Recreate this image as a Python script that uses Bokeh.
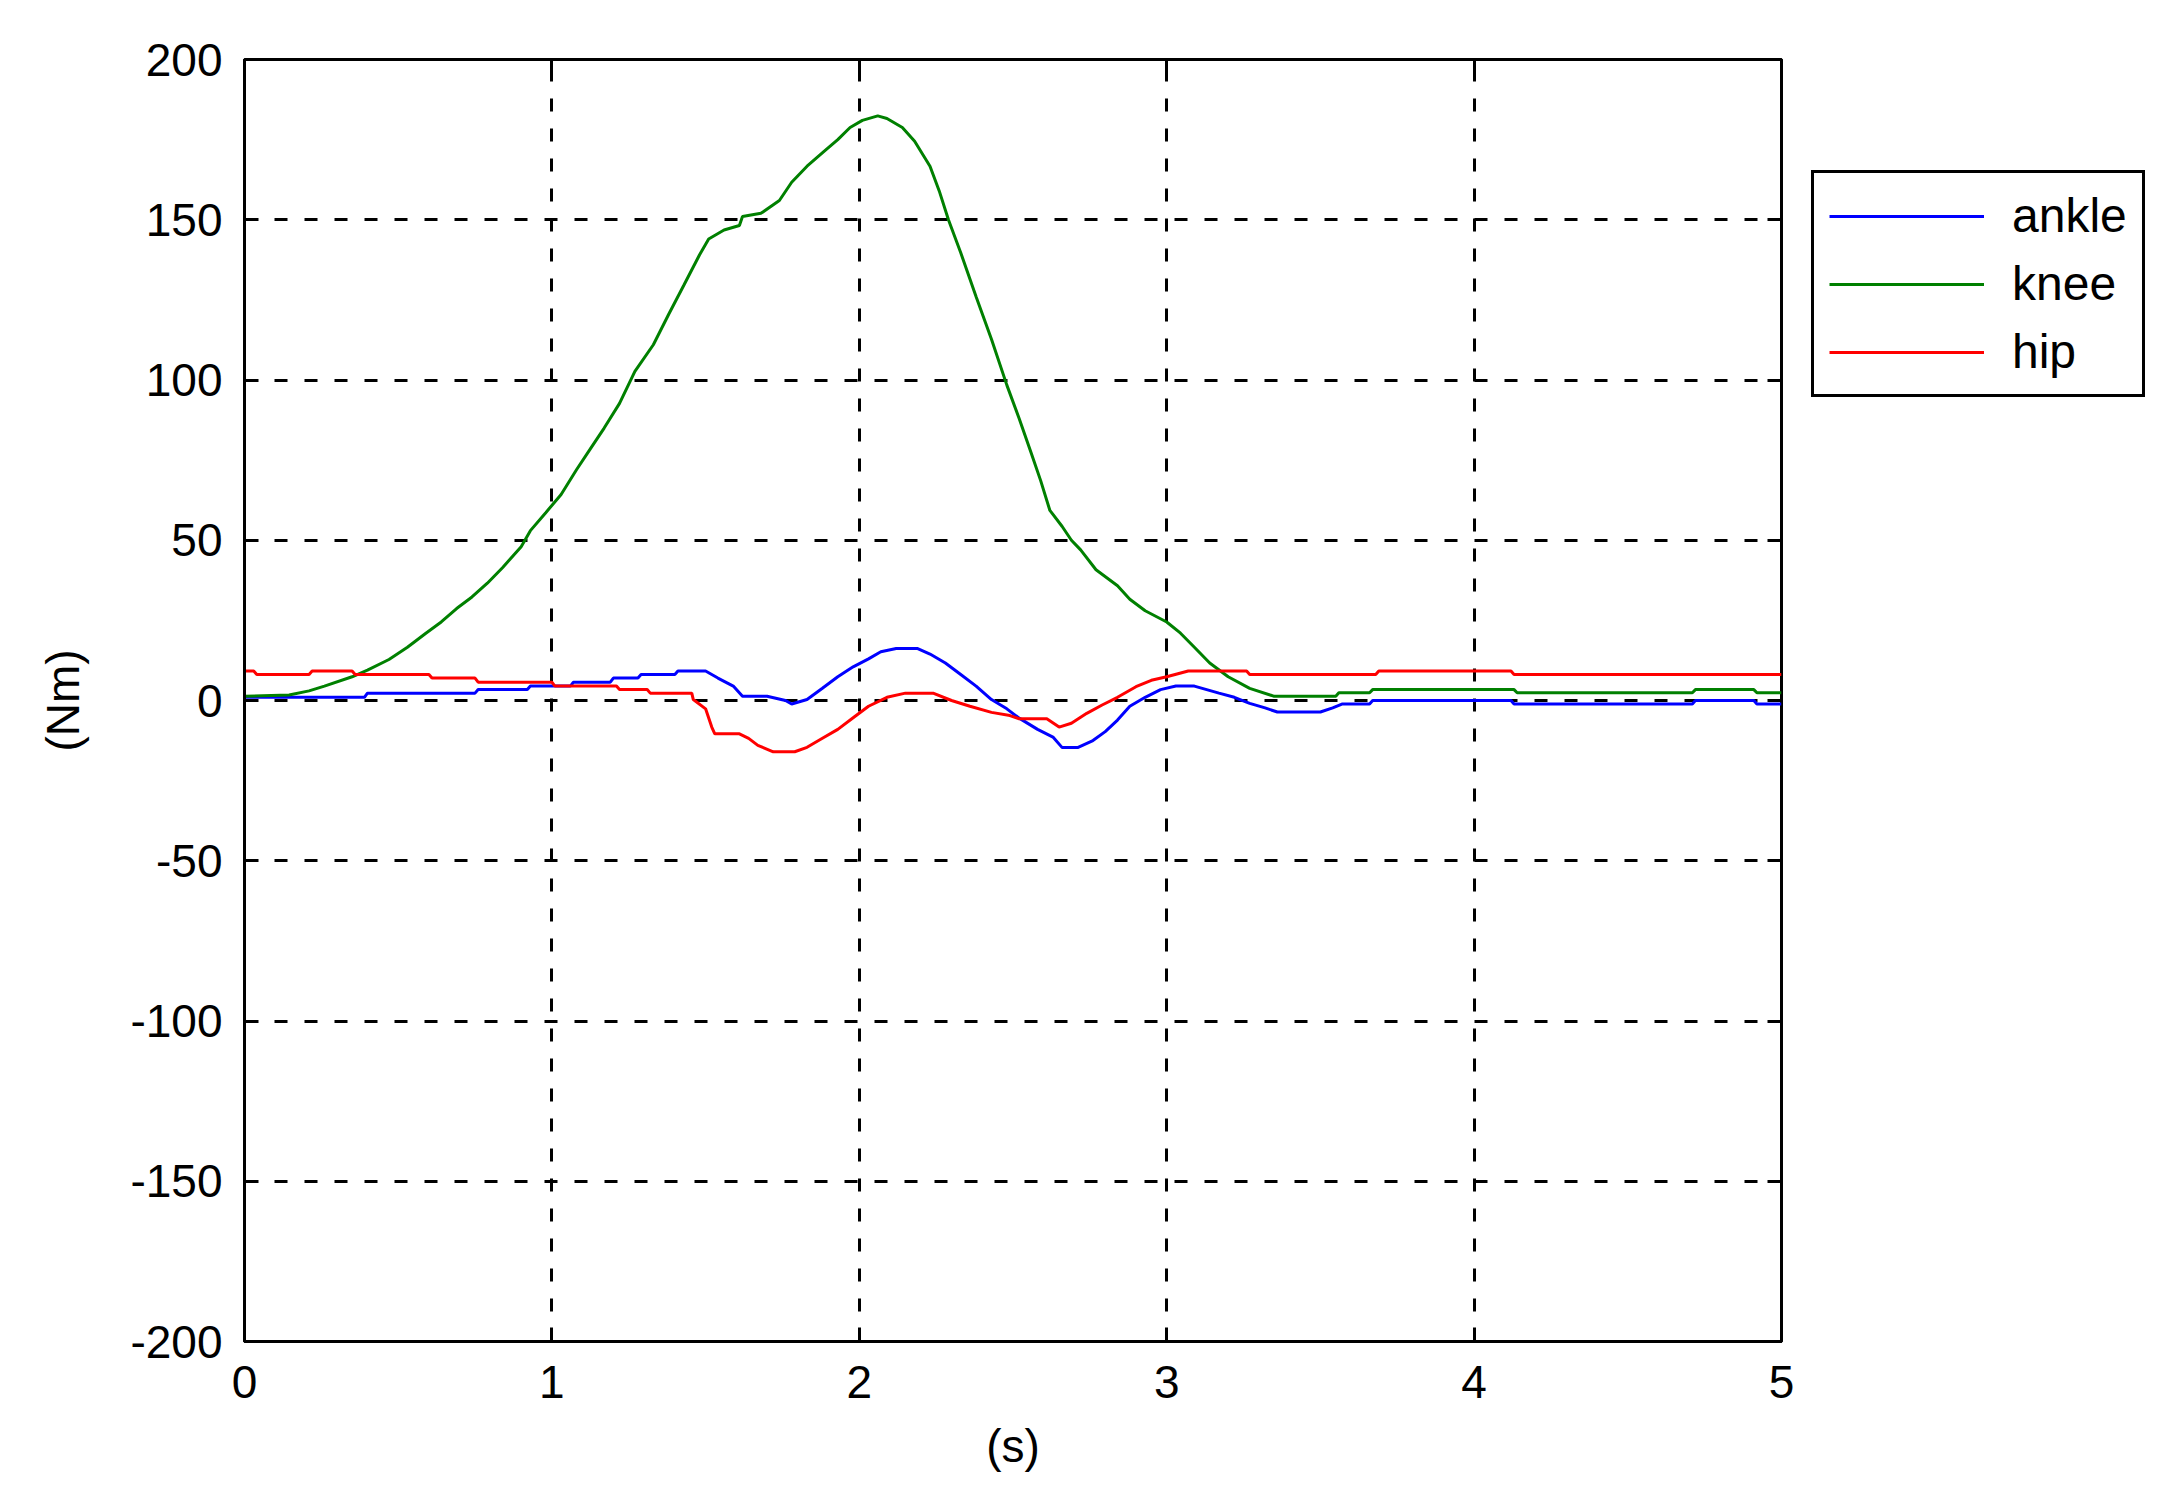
from bokeh.plotting import figure
from bokeh.layouts import row
from bokeh.models import LinearAxis, FixedTicker, Legend, LegendItem, Range1d, CustomJSTickFormatter
from bokeh.embed import file_html
from bokeh.resources import INLINE

# ankle torque (blue)
ankle_t = [0, 0.39, 0.40, 0.75, 0.76, 0.92, 0.93, 1.06, 1.07, 1.19, 1.20, 1.28, 1.29, 1.40,
           1.41, 1.50, 1.54, 1.59, 1.62, 1.70, 1.76, 1.78, 1.83, 1.88, 1.93, 1.98, 2.03, 2.07,
           2.12, 2.19, 2.23, 2.28, 2.33, 2.38, 2.43, 2.48, 2.52, 2.58, 2.63, 2.66, 2.71, 2.76,
           2.80, 2.84, 2.88, 2.93, 2.98, 3.03, 3.09, 3.13, 3.17, 3.22, 3.27, 3.32, 3.36, 3.50,
           3.54, 3.57, 3.66, 3.67, 4.12, 4.13, 4.71, 4.72, 4.91, 4.92, 5.0]
ankle = [1, 1, 2.3, 2.3, 3.4, 3.4, 4.5, 4.5, 5.7, 5.7, 7, 7, 8.1, 8.1,
         9.2, 9.2, 7, 4.5, 1.3, 1.3, 0, -1.1, 0.3, 3.8, 7.4, 10.5, 13, 15.2,
         16.2, 16.2, 14.5, 11.7, 8.1, 4.5, 0.3, -2.6, -5.5, -9, -11.4, -14.7, -14.7, -12.5,
         -9.7, -6.1, -1.8, 1, 3.4, 4.5, 4.5, 3.4, 2.3, 1, -0.9, -2.3, -3.6, -3.6,
         -2.3, -1.1, -1.1, 0, 0, -1.1, -1.1, 0, 0, -1.1, -1.1]

# knee torque (green)
knee_t = [0, 0.145, 0.21, 0.26, 0.35, 0.40, 0.47, 0.53, 0.59, 0.64, 0.69, 0.74, 0.79, 0.84,
          0.90, 0.93, 0.98, 1.03, 1.08, 1.125, 1.17, 1.22, 1.27, 1.33, 1.38, 1.43, 1.48, 1.51,
          1.56, 1.61, 1.62, 1.68, 1.74, 1.78, 1.83, 1.89, 1.93, 1.97, 2.01, 2.06, 2.09, 2.14,
          2.18, 2.23, 2.26, 2.29, 2.33, 2.38, 2.43, 2.48, 2.52, 2.56, 2.59, 2.62, 2.66, 2.69,
          2.72, 2.77, 2.84, 2.88, 2.93, 3.0, 3.045, 3.09, 3.14, 3.2, 3.27, 3.35, 3.55, 3.56,
          3.66, 3.67, 4.13, 4.14, 4.71, 4.72, 4.91, 4.92, 5.0]
knee = [1.3, 1.7, 3, 4.5, 7.4, 9.5, 12.8, 16.6, 21, 24.5, 28.7, 32.3, 36.6, 41.5,
        48, 53, 58.6, 64.3, 72, 78.5, 85, 92.7, 102.7, 111, 120.5, 129.7, 139, 144,
        146.8, 148.2, 151, 152, 156, 161.7, 166.7, 171.7, 175, 178.8, 181, 182.4, 181.6, 178.8,
        174.5, 166.7, 159, 150, 139.7, 126, 112.7, 98.4, 88, 77, 68.6, 59.3, 54.3, 50,
        47, 40.8, 35.8, 31.6, 28, 24.5, 21, 16.6, 11.7, 7.4, 3.8, 1.3, 1.3, 2.4,
        2.4, 3.4, 3.4, 2.4, 2.4, 3.4, 3.4, 2.4, 2.4]

# hip torque (red)
hip_t = [0, 0.03, 0.04, 0.21, 0.22, 0.35, 0.36, 0.60, 0.61, 0.75, 0.76, 1.00, 1.01, 1.21,
         1.22, 1.31, 1.32, 1.455, 1.46, 1.50, 1.52, 1.53, 1.61, 1.64, 1.67, 1.72, 1.79, 1.83,
         1.88, 1.93, 1.98, 2.03, 2.09, 2.15, 2.24, 2.30, 2.36, 2.43, 2.49, 2.52, 2.61, 2.65,
         2.69, 2.74, 2.79, 2.84, 2.90, 2.95, 3.00, 3.07, 3.26, 3.27, 3.68, 3.69, 4.12, 4.13, 5.0]
hip = [9.2, 9.2, 8.1, 8.1, 9.2, 9.2, 8.1, 8.1, 7, 7, 5.7, 5.7, 4.5, 4.5,
       3.4, 3.4, 2.3, 2.3, 0.3, -2.6, -8.3, -10.4, -10.4, -11.8, -14, -16, -16, -14.6,
       -11.8, -9, -5.4, -1.8, 1, 2.3, 2.3, 0, -1.8, -3.7, -4.7, -5.7, -5.7, -8.3,
       -7.1, -4, -1.4, 1, 4.3, 6.3, 7.4, 9.2, 9.2, 8.1, 8.1, 9.2, 9.2, 8.1, 8.1]

names = ["ankle", "knee", "hip"]
colors = ["#0000ff", "#008000", "#ff0000"]
x_ticks = [0, 1, 2, 3, 4, 5]
y_ticks = [-200, -150, -100, -50, 0, 50, 100, 150, 200]

FONT = "Liberation Sans"
FS = "46px"
H = 1485

p = figure(width=1800, height=H, output_backend="svg", toolbar_location=None,
           x_range=Range1d(0, 5), y_range=Range1d(-200, 200),
           x_axis_label="(s)", y_axis_label="(Nm)")
p.min_border_left = 244
p.min_border_right = 19
p.min_border_top = 59
p.min_border_bottom = 144
p.outline_line_color = "black"
p.outline_line_width = 3

series = [(ankle_t, ankle), (knee_t, knee), (hip_t, hip)]
for (t, v), c in zip(series, colors):
    p.line(t, v, color=c, line_width=3)

p.xaxis.ticker = FixedTicker(ticks=x_ticks)
p.yaxis.ticker = FixedTicker(ticks=y_ticks)
# plain hyphen minus like the original
p.yaxis.major_label_overrides = {t: str(t) for t in y_ticks}

for g in (p.xgrid[0], p.ygrid[0]):
    g.grid_line_color = "black"
    g.grid_line_width = 3
    g.grid_line_dash = "13 17"

for ax in (p.xaxis[0], p.yaxis[0]):
    ax.axis_line_width = 3
    ax.major_tick_in = 14
    ax.major_tick_out = 0
    ax.major_tick_line_width = 3
    ax.minor_tick_line_color = None
    ax.major_label_text_font = FONT
    ax.major_label_text_font_size = FS
    ax.major_label_text_color = "black"
    ax.axis_label_text_font = FONT
    ax.axis_label_text_font_size = FS
    ax.axis_label_text_font_style = "normal"
    ax.axis_label_text_color = "black"

p.xaxis.major_label_standoff = 24
p.xaxis.axis_label_standoff = 19
p.yaxis.major_label_standoff = 22
p.yaxis.axis_label_standoff = 38

# ticks on the top and right sides of the box
blank = CustomJSTickFormatter(code="return ''")
top = LinearAxis(ticker=FixedTicker(ticks=x_ticks), formatter=blank)
right = LinearAxis(ticker=FixedTicker(ticks=y_ticks), formatter=blank)
for ax in (top, right):
    ax.axis_line_color = None
    ax.major_tick_in = 14
    ax.major_tick_out = 0
    ax.major_tick_line_width = 3
    ax.minor_tick_line_color = None
    ax.major_label_standoff = 0
p.add_layout(top, "above")
p.add_layout(right, "right")

# legend lives in a small blank figure next to the axes
# (same series drawn there, but out of its view, just to feed the legend)
q = figure(width=365, height=H, output_backend="svg", toolbar_location=None,
           x_axis_location=None, y_axis_location=None,
           x_range=Range1d(0, 5), y_range=Range1d(1000, 1001))
q.min_border = 0
q.outline_line_color = None
q.grid.visible = False
items = []
for name, (t, v), c in zip(names, series, colors):
    r = q.line(t, v, color=c, line_width=3)
    items.append(LegendItem(label=name, renderers=[r]))

legend = Legend(items=items, location=(11, 944))
legend.border_line_color = "black"
legend.border_line_alpha = 1
legend.border_line_width = 3
legend.padding = 15
legend.spacing = 13
legend.margin = 0
legend.label_height = 50
legend.glyph_height = 50
legend.glyph_width = 155
legend.label_standoff = 28
legend.label_text_font = FONT
legend.label_text_font_size = "48px"
legend.label_text_color = "black"
q.add_layout(legend, "center")

open("out.html", "w").write(file_html(row(p, q), INLINE))
